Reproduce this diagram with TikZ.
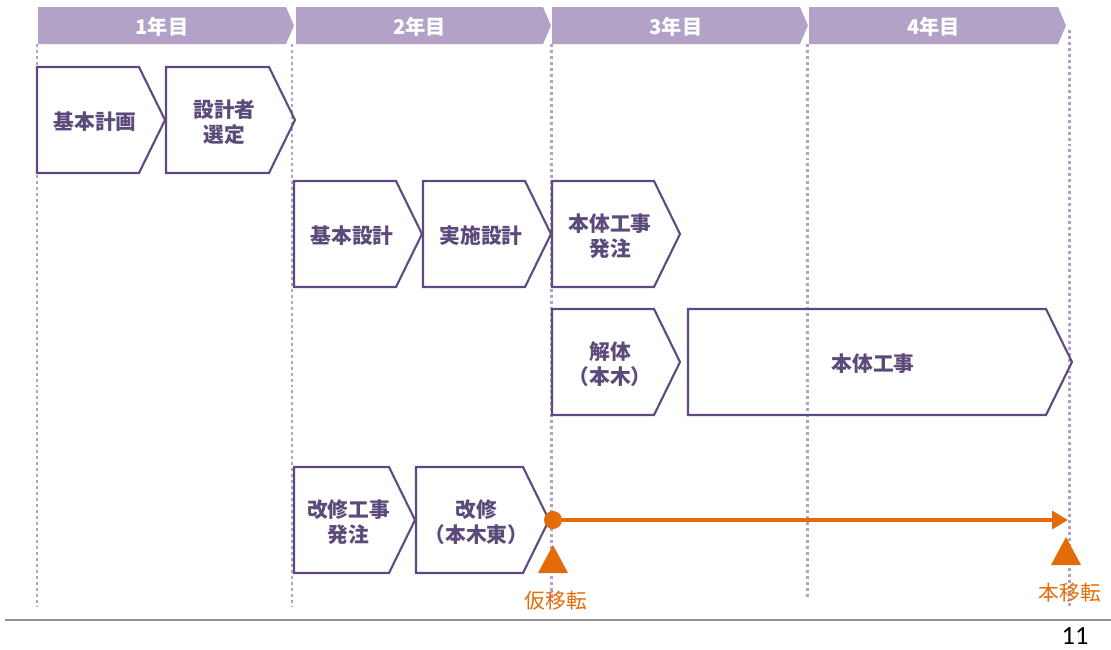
\documentclass[tikz,border=0pt]{standalone}
\usepackage{fontspec}
\setmainfont{Carlito}
\newfontfamily\jp{Noto Sans CJK JP}
\usetikzlibrary{arrows.meta}
\definecolor{hdr}{HTML}{B3A2C8}
\definecolor{chv}{HTML}{5E4A80}
\definecolor{txt}{HTML}{5B4A7A}
\definecolor{org}{HTML}{E36C09}
\definecolor{rulegray}{HTML}{909090}
\tikzset{
  hdrtext/.style={text=white,font=\jp\bfseries\fontsize{11.5pt}{12pt}\selectfont},
  chvtext/.style={text=txt,font=\jp\bfseries\fontsize{11.8pt}{14.4pt}\selectfont,align=center},
  chvline/.style={draw=chv,line width=1.2pt,line join=miter},
  dotline/.style={draw=hdr,line width=1.7pt,dash pattern=on 1.7pt off 1.7pt},
  orgtext/.style={text=org,font=\jp\fontsize{11.8pt}{12pt}\selectfont},
}
% \chevbox{name}{x1}{x2}{y1}{y2}{text}
\newcommand\chevbox[6]{%
  \draw[chvline] (#2,#4) -- ({#3-26},#4) -- (#3,{(#4+#5)/2}) -- ({#3-26},#5) -- (#2,#5) -- cycle;
  \node[chvtext] (#1) at ({(#2+#3)/2-6},{(#4+#5)/2+2}) {#6};}
% \hdrbar{name}{x1}{x2}{text}
\newcommand\hdrbar[4]{%
  \fill[hdr] (#2,7) -- ({#3-8},7) -- (#3,25.5) -- ({#3-8},44) -- (#2,44) -- cycle;
  \node[hdrtext] (#1) at ({(#2+#3)/2-4},26.5) {#4};}
\begin{document}
\begin{tikzpicture}[x=0.02cm,y=-0.02cm]
\useasboundingbox (0,0) rectangle (1111,649);
% dotted year lines
\draw[dotline] (37,44) -- (37,606);
\draw[dotline] (292,44) -- (292,606);
\draw[dotline] (551,44) -- (551,600);
\draw[dotline] (807,44) -- (807,597);
\draw[dotline] (1069,30) -- (1069,606);
% header bars
\hdrbar{y1}{38}{294}{1年目}
\hdrbar{y2}{296}{551}{2年目}
\hdrbar{y3}{552}{808}{3年目}
\hdrbar{y4}{809}{1066}{4年目}
% row 1
\chevbox{kihonkeikaku}{37}{165}{67}{173}{基本計画}
\chevbox{sekkeisha}{166}{295}{67}{173}{設計者\\選定}
% row 2
\chevbox{kihonsekkei}{294}{422}{181}{287}{基本設計}
\chevbox{jisshi}{423}{551}{181}{287}{実施設計}
\chevbox{hattyu}{552}{680}{181}{287}{本体工事\\発注}
% row 3
\chevbox{kaitai}{552}{680}{309}{415}{解体\\（本木）}
\draw[chvline] (688,309) -- (1046,309) -- (1072,362) -- (1046,415) -- (688,415) -- cycle;
\node[chvtext] (hontai) at (873,364) {本体工事};
% row 4
\chevbox{kaishuhattyu}{294}{415}{467}{573}{改修工事\\発注}
\chevbox{kaishu}{416}{549}{467}{573}{改修\\（本木東）}
% orange timeline
\node[circle,fill=org,inner sep=0pt,minimum size=0.36cm] (start) at (553,520) {};
\coordinate (finish) at (1068,520);
\draw[org,line width=2.8pt,-{Triangle[length=9pt,width=10pt]}] (start) -- (finish);
\fill[org] (553,545) -- (568,573) -- (538,573) -- cycle;
\fill[org] (1066,537) -- (1081,565) -- (1051,565) -- cycle;
\node[orgtext] (karilabel) at (556,601) {仮移転};
\node[orgtext] (honlabel) at (1070,593) {本移転};
% footer
\draw[rulegray,line width=0.8pt] (5,620) -- (1111,620);
\node[inner sep=0pt,font=\fontsize{15pt}{17pt}\selectfont] (pageno) at (1075,636) {11};
\end{tikzpicture}
\end{document}
